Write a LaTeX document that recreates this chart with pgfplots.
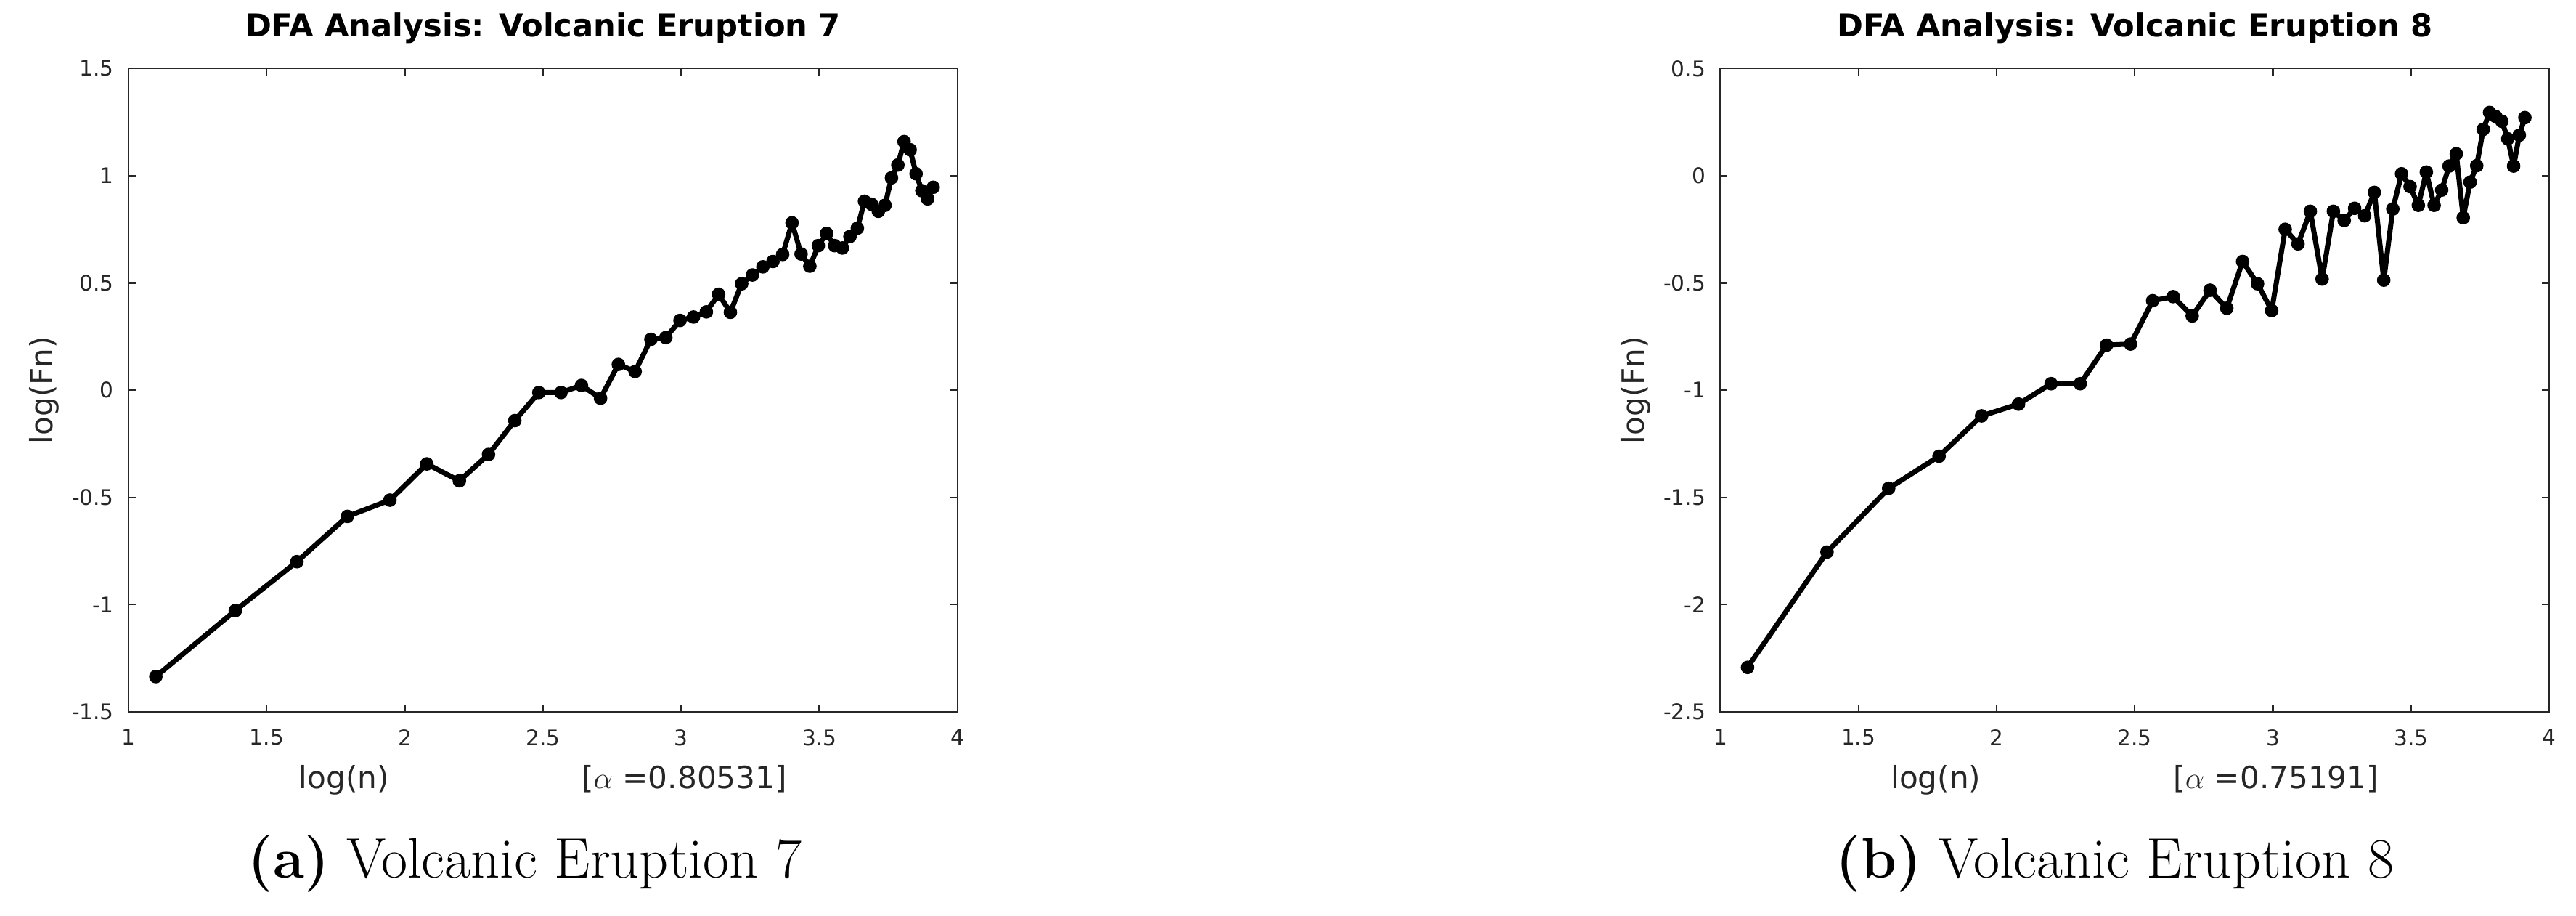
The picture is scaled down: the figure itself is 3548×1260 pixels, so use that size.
\documentclass[border=0pt]{standalone}
\usepackage{pgfplots}
\pgfplotsset{compat=1.18}
\usepackage{fontspec}
\newfontfamily\mlfont{DejaVu Sans}
\definecolor{axgray}{rgb}{0.15,0.15,0.15}

% DFA fluctuation curves, log(n) for n = 3..50
\pgfplotstableread{
x      y
1.0986 -1.336
1.3863 -1.028
1.6094 -0.800
1.7918 -0.589
1.9459 -0.513
2.0794 -0.344
2.1972 -0.423
2.3026 -0.300
2.3979 -0.142
2.4849 -0.011
2.5649 -0.011
2.6391  0.022
2.7081 -0.038
2.7726  0.120
2.8332  0.087
2.8904  0.237
2.9444  0.245
2.9957  0.325
3.0445  0.341
3.0910  0.365
3.1355  0.447
3.1781  0.363
3.2189  0.496
3.2581  0.537
3.2958  0.575
3.3322  0.600
3.3673  0.633
3.4012  0.780
3.4340  0.635
3.4657  0.578
3.4965  0.674
3.5264  0.731
3.5553  0.674
3.5835  0.663
3.6109  0.717
3.6376  0.755
3.6636  0.881
3.6889  0.867
3.7136  0.834
3.7377  0.862
3.7612  0.990
3.7842  1.050
3.8067  1.159
3.8286  1.121
3.8501  1.009
3.8712  0.930
3.8918  0.892
3.9120  0.946
}\seven
\pgfplotstableread{
x      y
1.0986 -2.293
1.3863 -1.755
1.6094 -1.458
1.7918 -1.308
1.9459 -1.120
2.0794 -1.065
2.1972 -0.970
2.3026 -0.970
2.3979 -0.790
2.4849 -0.785
2.5649 -0.583
2.6391 -0.564
2.7081 -0.654
2.7726 -0.534
2.8332 -0.618
2.8904 -0.400
2.9444 -0.504
2.9957 -0.629
3.0445 -0.250
3.0910 -0.318
3.1355 -0.166
3.1781 -0.482
3.2189 -0.166
3.2581 -0.209
3.2958 -0.152
3.3322 -0.187
3.3673 -0.078
3.4012 -0.487
3.4340 -0.155
3.4657  0.009
3.4965 -0.051
3.5264 -0.138
3.5553  0.017
3.5835 -0.138
3.6109 -0.067
3.6376  0.045
3.6636  0.102
3.6889 -0.196
3.7136 -0.030
3.7377  0.047
3.7612  0.216
3.7842  0.295
3.8067  0.276
3.8286  0.254
3.8501  0.172
3.8712  0.045
3.8918  0.189
3.9120  0.271
}\eight

\pgfplotsset{dfa/.style={
  scale only axis, width=11.41cm, height=8.85cm, anchor=south west,
  xmin=1, xmax=4, xtick={1,1.5,...,4},
  tick align=inside, major tick length=0.1cm,
  axis line style={axgray, line width=0.6pt},
  every tick/.style={axgray, line width=0.6pt},
  /pgf/number format/assume math mode=true,
  tick label style={font=\fontsize{8.4}{10}\mlfont, text=axgray},
  xticklabel style={yshift=-0.12cm},
  yticklabel style={xshift=-0.08cm},
  title style={font=\fontsize{12.3}{14}\mlfont\bfseries, at={(0.5,1)}, anchor=base, yshift=0.23cm},
  label style={font=\fontsize{12}{14}\mlfont, text=axgray},
  xlabel style={at={(0.5,0)}, anchor=base, yshift=-1.06cm},
  ylabel={log(Fn)},
  ylabel style={at={(0,0.5)}, anchor=base, yshift=1.05cm},
}}
\pgfplotsset{dfaline/.style={black, line width=2pt, line join=round, line cap=round,
  mark=*, mark size=2.45pt, mark options={line width=0.4pt}}}

\begin{document}
\begin{tikzpicture}[x=0.01cm, y=0.01cm]
\useasboundingbox (0,0) rectangle (3548,1260);

\begin{axis}[dfa, at={(1.77cm,2.80cm)},
  ymin=-1.5, ymax=1.5, ytick={-1.5,-1,...,1.5},
  title={DFA Analysis: Volcanic Eruption 7},
  xlabel={log(n)\hspace{2.65cm}[$\alpha$ =0.80531]}]
\addplot[dfaline] table[x=x, y=y] {\seven};
\end{axis}

\begin{axis}[dfa, at={(23.68cm,2.80cm)},
  ymin=-2.5, ymax=0.5, ytick={-2.5,-2,...,0.5},
  title={DFA Analysis: Volcanic Eruption 8},
  xlabel={log(n)\hspace{2.65cm}[$\alpha$ =0.75191]}]
\addplot[dfaline] table[x=x, y=y] {\eight};
\end{axis}

\node[anchor=base, font=\fontsize{22.3}{26}\selectfont] at (723,52) {\textbf{(a)} Volcanic Eruption 7};
\node[anchor=base, font=\fontsize{22.3}{26}\selectfont] at (2913,52) {\textbf{(b)} Volcanic Eruption 8};
\end{tikzpicture}
\end{document}
